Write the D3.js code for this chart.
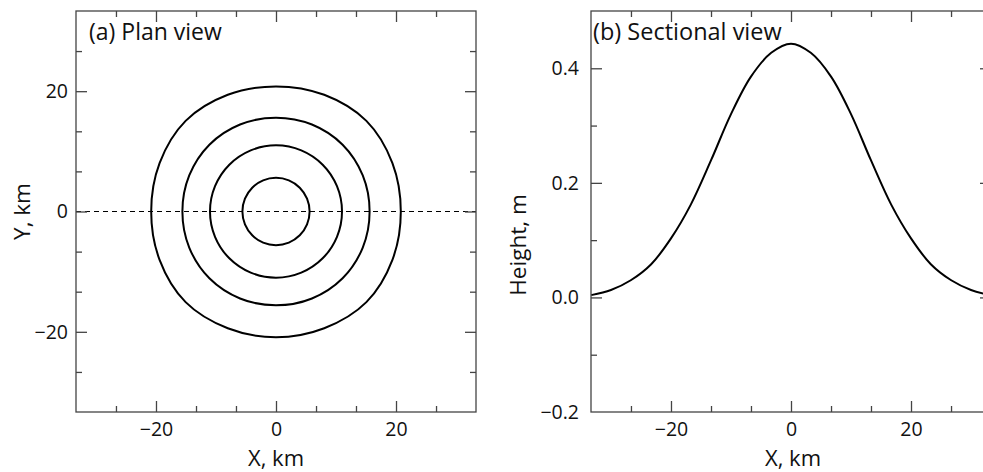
<!DOCTYPE html>
<html>
<head>
<meta charset="utf-8">
<script src="https://cdn.jsdelivr.net/npm/d3@7"></script>
<style>
  body { margin: 0; background: #fff; }
  text { font-family: "Open Sans", "Noto Sans", sans-serif; fill: #111; }
</style>
</head>
<body>
<script>
// Plan/section of the hump
const width = 983;
const height = 472;

// --- data ---
// (a) contour radii (km) at 16 directions, 0° = +X, counter-clockwise
const contourAngles = [0, 22.5, 45, 67.5, 90, 112.5, 135, 157.5, 180, 202.5, 225, 247.5, 270, 292.5, 315, 337.5];
const ring01 = [20.8, 21.0, 21.3, 21.0, 20.8, 21.0, 21.3, 21.0, 20.8, 21.0, 21.3, 21.0, 20.9, 21.0, 21.3, 21.0];
const ring02 = [15.6, 15.65, 15.7, 15.65, 15.6, 15.65, 15.7, 15.65, 15.6, 15.65, 15.7, 15.65, 15.6, 15.65, 15.7, 15.65];
const ring03 = [11.0, 11.0, 11.0, 11.0, 11.0, 11.0, 11.0, 11.0, 11.0, 11.0, 11.0, 11.0, 11.0, 11.0, 11.0, 11.0];
const ring04 = [5.6, 5.6, 5.6, 5.6, 5.6, 5.6, 5.6, 5.6, 5.6, 5.6, 5.6, 5.6, 5.6, 5.6, 5.6, 5.6];
const rings = [ring01, ring02, ring03, ring04];

// (b) section along Y = 0
const sectionX = [-33.3, -30, -26.7, -23.3, -20, -16.7, -13.3, -10, -6.7, -3.3, 0, 3.3, 6.7, 10, 13.3, 16.7, 20, 23.3, 26.7, 30, 33.3];
const sectionH = [0.004, 0.013, 0.030, 0.058, 0.103, 0.162, 0.240, 0.320, 0.385, 0.427, 0.443, 0.427, 0.385, 0.320, 0.240, 0.162, 0.103, 0.058, 0.030, 0.013, 0.004];

// ticks
const kmMajor = [-20, 0, 20];
const kmMinor = [-26.67, -13.33, -6.67, 6.67, 13.33, 26.67];
const hMajor = [0, 0.2, 0.4];
const hMinor = [-0.1, 0.1, 0.3];
const hLabels = [-0.2, 0, 0.2, 0.4];

const svg = d3.select("body").append("svg")
    .attr("width", width)
    .attr("height", height);

const fmtKm = d => d < 0 ? "\u2212" + Math.abs(d) : String(d);
const fmtH = d => d < 0 ? "\u2212" + Math.abs(d).toFixed(1) : d.toFixed(1);

const majorLen = 11, minorLen = 6;
const tickFont = 19.5;

// draws inward ticks on all four sides of a box
function frameTicks(g, x, y, xMaj, xMin, yMaj, yMin, yFmt, yPad, yLabelVals) {
    const [x0, x1] = x.range();
    const [y1, y0] = y.range();

    g.append("g").attr("transform", `translate(0,${y1})`)
        .call(d3.axisBottom(x).tickValues(xMin).tickSize(-minorLen).tickFormat(""));
    g.append("g").attr("transform", `translate(0,${y1})`)
        .call(d3.axisBottom(x).tickValues(xMaj).tickSize(-majorLen).tickPadding(10).tickFormat(fmtKm));
    g.append("g").attr("transform", `translate(0,${y0})`)
        .call(d3.axisTop(x).tickValues(xMin).tickSize(-minorLen).tickFormat(""));
    g.append("g").attr("transform", `translate(0,${y0})`)
        .call(d3.axisTop(x).tickValues(xMaj).tickSize(-majorLen).tickFormat(""));

    g.append("g").attr("transform", `translate(${x0},0)`)
        .call(d3.axisLeft(y).tickValues(yMin).tickSize(-minorLen).tickFormat(""));
    g.append("g").attr("transform", `translate(${x0},0)`)
        .call(d3.axisLeft(y).tickValues(yMaj).tickSize(-majorLen).tickFormat(""));
    g.append("g").attr("transform", `translate(${x0},0)`)
        .call(d3.axisLeft(y).tickValues(yLabelVals).tickSize(0).tickPadding(yPad).tickFormat(yFmt));
    g.append("g").attr("transform", `translate(${x1},0)`)
        .call(d3.axisRight(y).tickValues(yMin).tickSize(-minorLen).tickFormat(""));
    g.append("g").attr("transform", `translate(${x1},0)`)
        .call(d3.axisRight(y).tickValues(yMaj).tickSize(-majorLen).tickFormat(""));

    g.selectAll(".domain").remove();
    g.selectAll(".tick line").attr("stroke", "#444").attr("stroke-width", 1.3);
    g.selectAll(".tick text")
        .attr("font-family", "'Open Sans', sans-serif")
        .attr("font-size", tickFont)
        .attr("fill", "#111");

    g.append("rect")
        .attr("x", x0).attr("y", y0)
        .attr("width", x1 - x0).attr("height", y1 - y0)
        .attr("fill", "none")
        .attr("stroke", "#444")
        .attr("stroke-width", 1.3);
}

// ---------- (a) Plan view ----------
const xa = d3.scaleLinear().domain([-33.33, 33.33]).range([76, 476]);
const ya = d3.scaleLinear().domain([-33.33, 33.33]).range([412, 11]);

const ga = svg.append("g");

ga.append("line")
    .attr("x1", xa(-33.33)).attr("x2", xa(33.33))
    .attr("y1", ya(0)).attr("y2", ya(0))
    .attr("stroke", "#000")
    .attr("stroke-width", 1.2)
    .attr("stroke-dasharray", "5,4");

const ringLine = d3.line()
    .x(d => xa(d.r * Math.cos(d.a * Math.PI / 180)))
    .y(d => ya(d.r * Math.sin(d.a * Math.PI / 180)))
    .curve(d3.curveCatmullRomClosed);

ga.selectAll("path.ring")
    .data(rings)
    .join("path")
    .attr("class", "ring")
    .attr("d", ring => ringLine(ring.map((r, i) => ({ r: r, a: contourAngles[i] }))))
    .attr("fill", "none")
    .attr("stroke", "#000")
    .attr("stroke-width", 2);

frameTicks(ga, xa, ya, kmMajor, kmMinor, kmMajor, kmMinor, fmtKm, 8, kmMajor);

ga.append("text")
    .attr("x", 89).attr("y", 40)
    .attr("font-size", 23)
    .text("(a) Plan view");

ga.append("text")
    .attr("x", xa(0)).attr("y", 465.5)
    .attr("text-anchor", "middle")
    .attr("font-size", 22)
    .text("X, km");

ga.append("text")
    .attr("transform", `translate(30,${ya(0)}) rotate(-90)`)
    .attr("text-anchor", "middle")
    .attr("font-size", 22.5)
    .text("Y, km");

// ---------- (b) Sectional view ----------
const xb = d3.scaleLinear().domain([-33.33, 33.33]).range([591, 991]);
const yb = d3.scaleLinear().domain([-0.2, 0.5]).range([412, 11]);

const gb = svg.append("g");

gb.append("path")
    .datum(sectionX.map((x, i) => [x, sectionH[i]]))
    .attr("d", d3.line()
        .x(d => xb(d[0]))
        .y(d => yb(d[1]))
        .curve(d3.curveCatmullRom.alpha(0.5)))
    .attr("fill", "none")
    .attr("stroke", "#000")
    .attr("stroke-width", 2);

frameTicks(gb, xb, yb, kmMajor, kmMinor, hMajor, hMinor, fmtH, 12, hLabels);

gb.append("text")
    .attr("x", 593).attr("y", 40)
    .attr("font-size", 23.5)
    .text("(b) Sectional view");

gb.append("text")
    .attr("x", xb(0) + 2).attr("y", 465.5)
    .attr("text-anchor", "middle")
    .attr("font-size", 22)
    .text("X, km");

gb.append("text")
    .attr("transform", `translate(526,245) rotate(-90)`)
    .attr("text-anchor", "middle")
    .attr("font-size", 22.5)
    .text("Height, m");
</script>
</body>
</html>
